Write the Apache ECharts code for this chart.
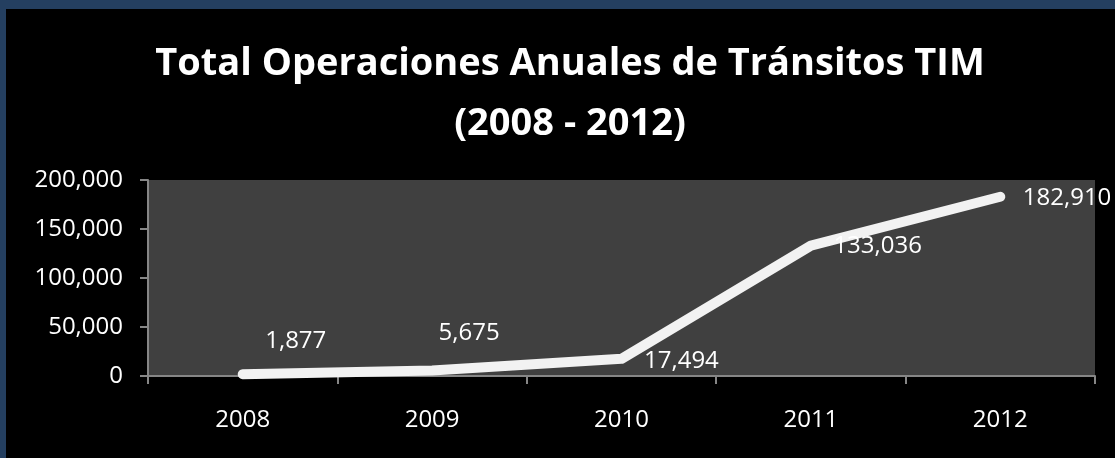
<!DOCTYPE html>
<html>
<head>
<meta charset="utf-8">
<script src="https://cdn.jsdelivr.net/npm/echarts@6/dist/echarts.min.js"></script>
<style>
  html, body { margin: 0; padding: 0; background: #243f60; width: 1115px; height: 458px; overflow: hidden; }
  #chart { position: absolute; left: 6px; top: 9px; width: 1109px; height: 449px; background: #000; }
</style>
</head>
<body>
<div id="chart"></div>
<script>
// datos del gráfico
const years = ['2008', '2009', '2010', '2011', '2012']
const operaciones = [1877, 5675, 17494, 133036, 182910]
// desplazamiento manual de etiquetas (como en el original)
const labelOffsets = [[0, -33], [-16, -37], [0, 2], [0, 1], [0, 1]]

const chart = echarts.init(document.getElementById('chart'))
const font = '"Open Sans", sans-serif'

chart.setOption({
  backgroundColor: '#000',
  animation: false,
  title: {
    text: 'Total Operaciones Anuales de Tránsitos TIM\n(2008 - 2012)',
    left: 559,
    top: 20,
    textAlign: 'center',
    textStyle: {
      color: '#fff',
      fontFamily: font,
      fontWeight: 'bold',
      fontSize: 38,
      lineHeight: 60
    }
  },
  grid: {
    left: 142,
    top: 171,
    right: 20,
    bottom: 82,
    show: true,
    backgroundColor: '#404040',
    borderWidth: 0
  },
  xAxis: {
    type: 'category',
    data: years,
    boundaryGap: true,
    axisLine: { lineStyle: { color: '#868686', width: 2 } },
    axisTick: { show: true, length: 8, inside: false, lineStyle: { color: '#868686', width: 2 } },
    axisLabel: { color: '#fff', fontFamily: font, fontSize: 24, margin: 32 }
  },
  yAxis: {
    type: 'value',
    min: 0,
    max: 200000,
    interval: 50000,
    splitLine: { show: false },
    axisLine: { show: true, lineStyle: { color: '#868686', width: 2 } },
    axisTick: { show: true, length: 8, lineStyle: { color: '#868686', width: 2 } },
    axisLabel: {
      color: '#fff',
      fontFamily: font,
      fontSize: 24,
      margin: 25,
      formatter: v => v.toLocaleString('en-US')
    }
  },
  series: [{
    type: 'line',
    data: operaciones.map((v, i) => ({
      value: v,
      label: { offset: labelOffsets[i] }
    })),
    symbol: 'circle',
    symbolSize: 1,
    showSymbol: true,
    itemStyle: { color: '#f2f2f2' },
    lineStyle: { color: '#f2f2f2', width: 10, cap: 'round', join: 'round' },
    label: {
      show: true,
      position: 'right',
      distance: 22,
      color: '#fff',
      fontFamily: font,
      fontSize: 24,
      formatter: p => p.value.toLocaleString('en-US')
    }
  }]
})
</script>
</body>
</html>
